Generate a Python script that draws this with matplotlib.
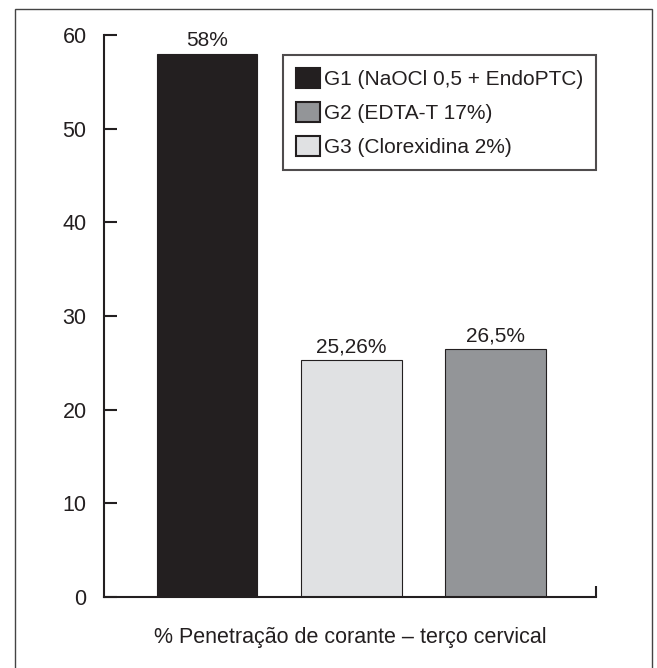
import matplotlib.pyplot as plt
from matplotlib.patches import Patch, Rectangle

plt.rcParams['font.family'] = ['Liberation Sans', 'DejaVu Sans']

# dados do gráfico (ordem das barras como no original)
valores = [58, 25.26, 26.5]
rotulos = ['58%', '25,26%', '26,5%']
cores_barras = ['#231f20', '#e0e1e3', '#939598']

legenda_nomes = ['G1 (NaOCl 0,5 + EndoPTC)', 'G2 (EDTA-T 17%)', 'G3 (Clorexidina 2%)']
legenda_cores = ['#231f20', '#939598', '#e0e1e3']

y_ticks = [0, 10, 20, 30, 40, 50, 60]
titulo_x = '% Penetração de corante – terço cervical'

escuro = '#231f20'

fig = plt.figure(figsize=(6.57, 6.68), dpi=100)
ax = fig.add_axes([0.1583, 0.1063, 0.7489, 0.8413])

x = range(len(valores))
barras = ax.bar(x, valores, width=0.70, color=cores_barras,
                edgecolor=escuro, linewidth=0.8, zorder=2)
for b, txt in zip(barras, rotulos):
    ax.annotate(txt, (b.get_x() + b.get_width() / 2, b.get_height()),
                xytext=(0, 2.5), textcoords='offset points',
                ha='center', va='bottom', fontsize=15, color=escuro)

ax.set_xlim(-0.715, 2.70)
ax.set_ylim(0, 60)
ax.set_yticks(y_ticks)
ax.tick_params(axis='y', direction='in', length=9.5, width=1.5, color=escuro,
               labelsize=15.5, labelcolor=escuro, pad=12.5)
# pequeno traço no fim do eixo x
ax.set_xticks([2.70])
ax.set_xticklabels([''])
ax.tick_params(axis='x', direction='in', length=8, width=1.5, color=escuro)

for s in ['top', 'right']:
    ax.spines[s].set_visible(False)
for s in ['left', 'bottom']:
    ax.spines[s].set_linewidth(1.5)
    ax.spines[s].set_color(escuro)

ax.set_xlabel(titulo_x, fontsize=15.5, color=escuro, labelpad=18)

handles = [Patch(facecolor=c, edgecolor=escuro, linewidth=1.5) for c in legenda_cores]
leg = ax.legend(handles, legenda_nomes, loc='upper right', bbox_to_anchor=(1.0, 0.964),
                fontsize=15, frameon=True, fancybox=False, handlelength=1.12,
                handleheight=1.08, handletextpad=0.2, borderpad=0.62,
                labelspacing=0.62, borderaxespad=0)
leg.get_frame().set_edgecolor(escuro)
leg.get_frame().set_linewidth(1.5)
for t in leg.get_texts():
    t.set_color(escuro)

# moldura externa
fig.patches.append(Rectangle((15 / 657, -0.05), 637 / 657, 1.05 - 9 / 668,
                             transform=fig.transFigure, fill=False,
                             edgecolor='#444444', linewidth=1.0))

fig.savefig('out.png', dpi=100)
